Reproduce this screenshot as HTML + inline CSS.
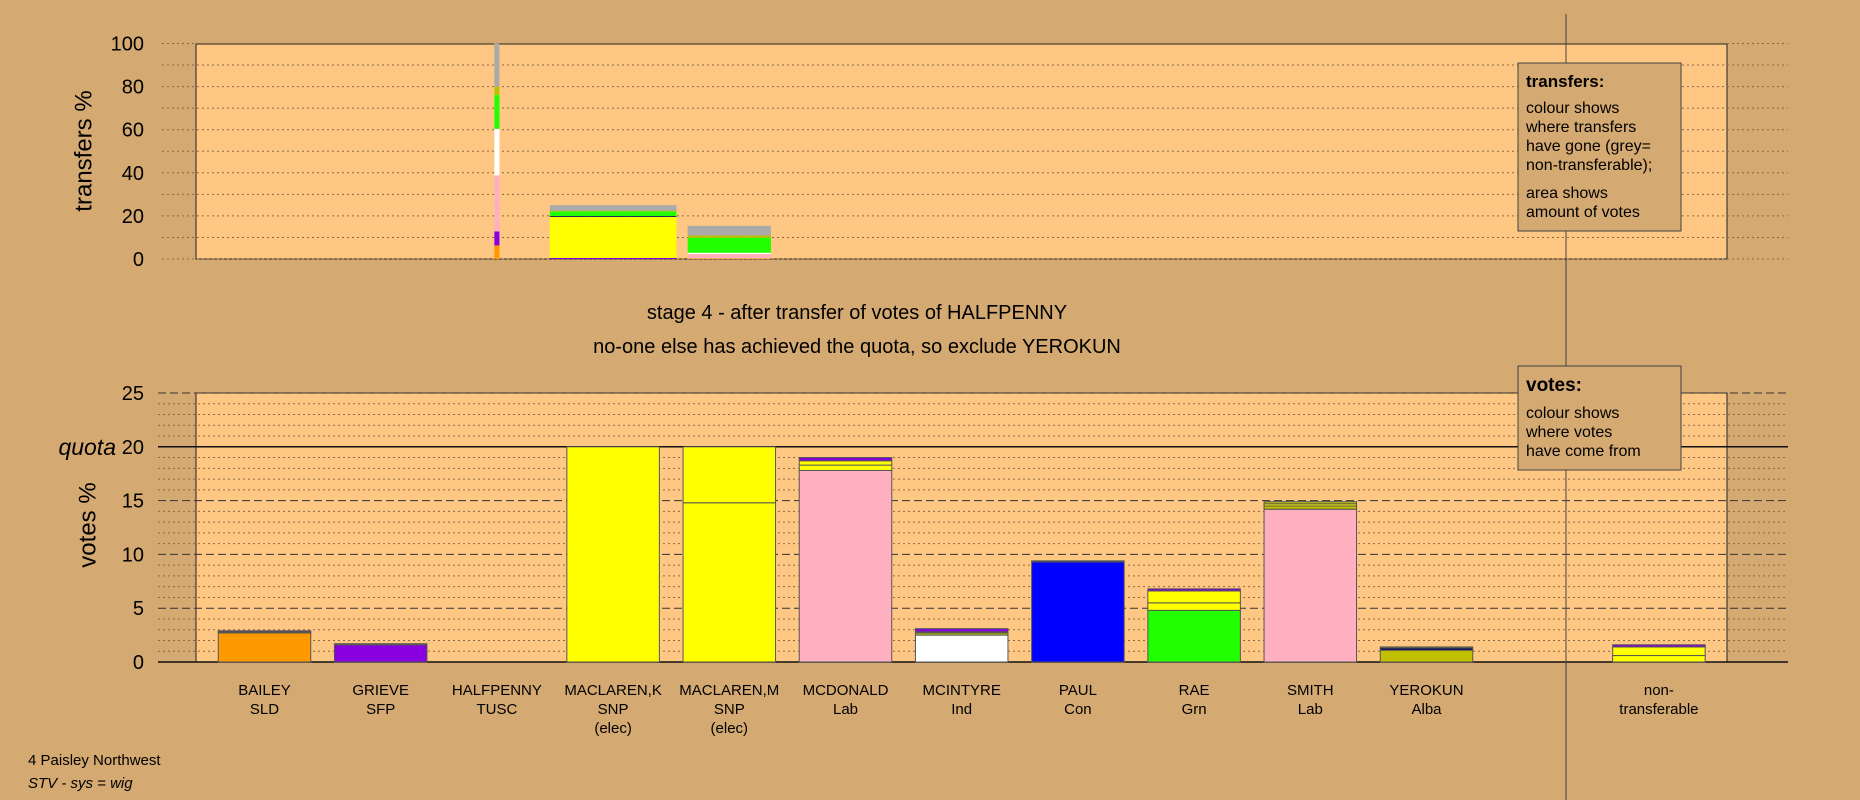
<!DOCTYPE html>
<html><head><meta charset="utf-8"><style>
html,body{margin:0;padding:0;background:#D4A972;}
svg{display:block;font-family:"Liberation Sans",sans-serif;}
</style></head><body>
<svg id="c" width="1860" height="800" xmlns="http://www.w3.org/2000/svg">
<rect x="0" y="0" width="1860" height="800" fill="#D4A972"/>
<rect x="196" y="44" width="1531" height="215" fill="#FFC784" stroke="#222" stroke-width="1"/>
<rect x="196" y="393" width="1531" height="269" fill="#FFC784" stroke="#222" stroke-width="1"/>
<g id="grid"></g>
<g id="bars"></g>
<line x1="1566" y1="14" x2="1566" y2="800" stroke="#444" stroke-width="1"/>
<text x="85" y="151" font-size="24" text-anchor="middle" transform="rotate(-90 85 151)" dominant-baseline="middle">transfers %</text>
<text x="89" y="525" font-size="24" text-anchor="middle" transform="rotate(-90 89 525)" dominant-baseline="middle">votes %</text>
<text x="116" y="455" font-size="23" font-style="italic" text-anchor="end">quota</text>
<text x="857" y="319" font-size="20" text-anchor="middle">stage 4 - after transfer of votes of HALFPENNY</text>
<text x="857" y="353" font-size="20" text-anchor="middle">no-one else has achieved the quota, so exclude YEROKUN</text>
<g>
<rect x="1518" y="63" width="163" height="168" fill="#D4A972" stroke="#444"/>
<text x="1526" y="87" font-size="17" font-weight="bold">transfers:</text>
<text x="1526" y="113" font-size="16">colour shows</text>
<text x="1526" y="132" font-size="16">where transfers</text>
<text x="1526" y="151" font-size="16">have gone (grey=</text>
<text x="1526" y="170" font-size="16">non-transferable);</text>
<text x="1526" y="198" font-size="16">area shows</text>
<text x="1526" y="217" font-size="16">amount of votes</text>
</g>
<g>
<rect x="1518" y="366" width="163" height="104" fill="#D4A972" stroke="#444"/>
<text x="1526" y="391" font-size="19" font-weight="bold">votes:</text>
<text x="1526" y="418" font-size="16">colour shows</text>
<text x="1526" y="437" font-size="16">where votes</text>
<text x="1526" y="456" font-size="16">have come from</text>
</g>
<text x="28" y="765" font-size="15">4 Paisley Northwest</text>
<text x="28" y="788" font-size="15" font-style="italic">STV - sys = wig</text>
</svg>
<script>
const categories=["BAILEY","GRIEVE","HALFPENNY","MACLAREN,K","MACLAREN,M","MCDONALD","MCINTYRE","PAUL","RAE","SMITH","YEROKUN","non-"];
const parties=["SLD","SFP","TUSC","SNP","SNP","Lab","Ind","Con","Grn","Lab","Alba","transferable"];
const notes=["","","","(elec)","(elec)","","","","","","",""];
const slots=[0,1,2,3,4,5,6,7,8,9,10,12];
const colors={o:"#FF9900",p:"#8800E0",y:"#FFFF00",k:"#FFB0C0",w:"#FFFFFF",b:"#0000FF",g:"#22FF00",l:"#C0C000",r:"#AAAAAA",n:"#000060"};
// votes % stacks per candidate: [colorKey, value]
const voteStacks=[
 [["o",2.7],["l",0.1],["p",0.1]],
 [["p",1.6],["l",0.1]],
 [],
 [["y",20]],
 [["y",14.8],["y",5.2]],
 [["k",17.8],["y",0.5],["y",0.4],["p",0.3]],
 [["w",2.5],["l",0.2],["y",0.1],["p",0.3]],
 [["b",9.3],["n",0.1]],
 [["g",4.8],["y",0.7],["y",1.1],["p",0.2]],
 [["k",14.2],["l",0.3],["y",0.2],["l",0.2]],
 [["l",1.1],["n",0.2],["l",0.1]],
 [["y",0.6],["y",0.8],["p",0.2]]
];
// transfer % stacks (slot, relative width, stacks)
const transferSlots=[2,3,4];
const transferWidths=[0.055,1.37,0.9];
const transferStacks=[
 [["o",6.3],["p",6.5],["k",26],["w",21.6],["g",15.8],["l",3.8],["r",20]],
 [["p",0.5],["y",19.0],["n",0.4],["g",2.2],["l",0.3],["r",2.6]],
 [["o",0.3],["k",2.0],["w",0.6],["g",7],["l",1],["r",4.5]]
];
const tTicks=[0,20,40,60,80,100];
const vTicks=[0,5,10,15,20,25];
const NS="http://www.w3.org/2000/svg";
const ty=v=>259-v*2.155;
const vy=v=>662-v*10.76;
const cx=s=>264.5+s*116.2;
const BW=92.5;
function mk(tag,attrs,parent){const e=document.createElementNS(NS,tag);for(const k in attrs)e.setAttribute(k,attrs[k]);parent.appendChild(e);return e;}
const grid=document.getElementById('grid'),bars=document.getElementById('bars');
for(let v=0;v<=100;v+=10){
 const l=mk('line',{x1:162,x2:1788,y1:ty(v),y2:ty(v),stroke:"#8a6a44","stroke-width":1,"stroke-dasharray":"2,3"},grid);
 
 
}
tTicks.forEach(v=>{const t=mk('text',{x:144,y:ty(v)+7,"font-size":20,"text-anchor":"end"},grid);t.textContent=v;
 
 });
for(let v=0;v<=25;v++){
 let attrs={x1:158,x2:1788,y1:vy(v),y2:vy(v),stroke:"#8a6a44","stroke-width":1,"stroke-dasharray":"2,3"};
 if(v%5==0){attrs.stroke="#333";attrs["stroke-dasharray"]="8,4";}
 if(v==0||v==20){attrs.stroke="#111";attrs["stroke-dasharray"]="none";attrs["stroke-width"]=1.5;}
 const l=mk('line',attrs,grid);
 
 
}
vTicks.forEach(v=>{const t=mk('text',{x:144,y:vy(v)+7,"font-size":20,"text-anchor":"end"},grid);t.textContent=v;
 
 });
voteStacks.forEach((st,i)=>{
 let base=0;
 st.forEach(([c,v])=>{
  const r=mk('rect',{x:cx(slots[i])-BW/2,width:BW,y:vy(base+v),height:v*10.76,fill:colors[c],stroke:"#555","stroke-width":1},bars);
  
  
  base+=v;
 });
 const x=cx(slots[i]);
 [categories[i],parties[i],notes[i]].forEach((s,j)=>{if(!s)return;
  const t=mk('text',{x:x,y:695+j*19,"font-size":15,"text-anchor":"middle"},bars);t.textContent=s;
  
  });
});
transferStacks.forEach((st,i)=>{
 let base=0;const w=BW*transferWidths[i];
 st.forEach(([c,v])=>{
  const r=mk('rect',{x:cx(transferSlots[i])-w/2,width:w,y:ty(base+v),height:v*2.155,fill:colors[c]},bars);
  
  
  base+=v;
 });
});
</script>
</body></html>
